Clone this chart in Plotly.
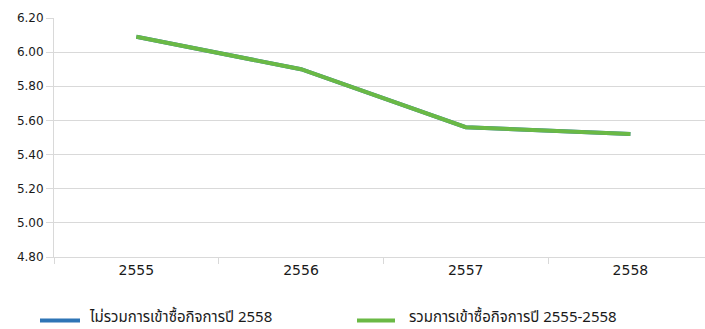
import plotly.graph_objects as go

# Fiscal years (Thai Buddhist calendar)
years = ["2555", "2556", "2557", "2558"]

# Ratio excluding the 2558 acquisitions
excl_2558 = [6.09, 5.90, 5.56, 5.52]
# Ratio including acquisitions made 2555-2558
incl_2555_2558 = [6.09, 5.90, 5.56, 5.52]

y_ticks = [4.80, 5.00, 5.20, 5.40, 5.60, 5.80, 6.00, 6.20]

name_blue = "ไม่รวมการเข้าซื้อกิจการปี 2558"
name_green = "รวมการเข้าซื้อกิจการปี 2555-2558"

BLUE = "#2E75B6"
GREEN = "#6AB945"
NUM_FONT = "'DejaVu Sans', sans-serif"
THAI_FONT = "'Noto Sans Thai', 'Noto Sans', sans-serif"
GRID = "#d9d9d9"
TEXT = "#1a1a1a"

W, H = 705, 329
M_L, M_R, M_T, M_B = 54, 0, 18, 72
PW, PH = W - M_L - M_R, H - M_T - M_B


def px_to_paper_x(px):
    return (px - M_L) / PW


def px_to_paper_y(py):
    return (H - M_B - py) / PH


fig = go.Figure()
fig.add_trace(go.Scatter(
    x=years, y=excl_2558, mode="lines", name=name_blue,
    line=dict(color=BLUE, width=4), showlegend=False,
))
fig.add_trace(go.Scatter(
    x=years, y=incl_2555_2558, mode="lines", name=name_green,
    line=dict(color=GREEN, width=4), showlegend=False,
))

# Legend row below the chart: line sample + label for each series
sample_y = px_to_paper_y(320.5)
text_y = px_to_paper_y(317)
legend_items = [
    (name_blue, BLUE, 40, 80, 88),
    (name_green, GREEN, 357, 395, 408),
]
for label, color, x0, x1, xt in legend_items:
    fig.add_shape(
        type="line", xref="paper", yref="paper",
        x0=px_to_paper_x(x0), x1=px_to_paper_x(x1), y0=sample_y, y1=sample_y,
        line=dict(color=color, width=4),
    )
    fig.add_annotation(
        text=label, xref="paper", yref="paper",
        x=px_to_paper_x(xt), y=text_y, xanchor="left", yanchor="middle",
        borderpad=0, showarrow=False,
        font=dict(family=THAI_FONT, size=15, color=TEXT),
    )

fig.update_layout(
    width=W, height=H,
    margin=dict(l=M_L, r=M_R, t=M_T, b=M_B),
    paper_bgcolor="white", plot_bgcolor="white",
    font=dict(family=NUM_FONT, size=13, color=TEXT),
    showlegend=False,
)

fig.update_xaxes(
    type="category", range=[-0.5, 3.453],
    showgrid=False, showline=True, linecolor=GRID, linewidth=1,
    ticks="outside", tickson="boundaries", ticklen=6, tickcolor=GRID,
    tickfont=dict(size=14), zeroline=False,
)
fig.update_yaxes(
    range=[4.80, 6.20], tickvals=y_ticks,
    ticktext=[f"{v:.2f}" for v in y_ticks],
    showgrid=True, gridcolor=GRID, gridwidth=1,
    showline=True, linecolor=GRID, linewidth=1,
    ticks="outside", ticklen=7, tickcolor=GRID,
    tickfont=dict(size=12), zeroline=False,
)

fig.write_html("out.html")
